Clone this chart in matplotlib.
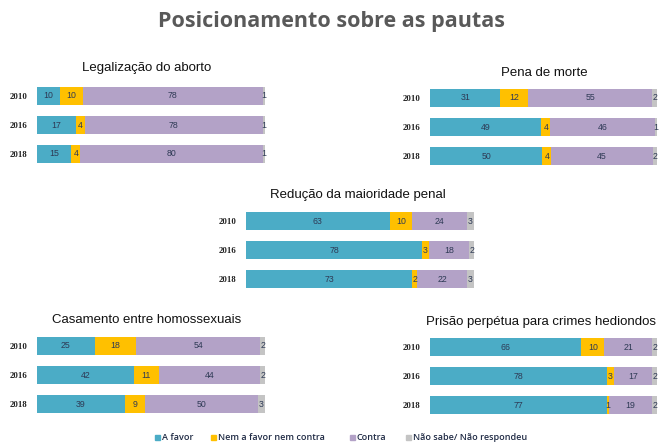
import matplotlib
matplotlib.use("Agg")
import matplotlib.pyplot as plt
from matplotlib.patches import Rectangle

W, H = 659, 448

years = ["2010", "2016", "2018"]
categories = ["A favor", "Nem a favor nem contra", "Contra", "Não sabe/ Não respondeu"]
colors = ["#4BACC6", "#FFC000", "#B3A2C7", "#C4C4C4"]

titles = ["Legalização do aborto", "Pena de morte", "Redução da maioridade penal",
          "Casamento entre homossexuais", "Prisão perpétua para crimes hediondos"]

aborto = [[10, 10, 78, 1], [17, 4, 78, 1], [15, 4, 80, 1]]
pena = [[31, 12, 55, 2], [49, 4, 46, 1], [50, 4, 45, 2]]
reducao = [[63, 10, 24, 3], [78, 3, 18, 2], [73, 2, 22, 3]]
casamento = [[25, 18, 54, 2], [42, 11, 44, 2], [39, 9, 50, 3]]
prisao = [[66, 10, 21, 2], [78, 3, 17, 2], [77, 1, 19, 2]]
datasets = [aborto, pena, reducao, casamento, prisao]

# layout in pixels: (bar left, bar right, first row centre y, title centre x, title y)
layout = [
    (37, 265, 96, 147, 68),
    (430, 657, 98, 544, 73),
    (246, 474, 221, 358, 195),
    (37, 265, 346, 147, 320),
    (430, 657, 347, 541, 322),
]
row_gap = 29
bar_h = 18

fig = plt.figure(figsize=(W / 100, H / 100), dpi=100)
fig.patch.set_facecolor("white")

fig.text(332 / W, 1 - 22 / H, "Posicionamento sobre as pautas", ha="center", va="center",
         fontsize=15.5, color="#595959", family="Open Sans", weight="bold")

label_color = "#2E3A55"
for data, title, (x0, x1, y0, tx, ty) in zip(datasets, titles, layout):
    top = y0 - row_gap / 2
    h = 3 * row_gap
    ax = fig.add_axes([x0 / W, 1 - (top + h) / H, (x1 - x0) / W, h / H])
    for i, row in enumerate(data):
        left = 0
        scale = 100.0 / sum(row)  # each bar spans the full width (100 %)
        for j, v in enumerate(row):
            w = v * scale
            ax.barh(i, w, left=left, height=bar_h / row_gap, color=colors[j], edgecolor="none")
            ax.text(left + w / 2, i, str(v), ha="center", va="center", fontsize=6.3,
                    color=label_color, family="Liberation Sans")
            left += w
    ax.set_xlim(0, 100)
    ax.set_ylim(2.5, -0.5)
    ax.set_yticks(range(3))
    ax.set_yticklabels(years, fontsize=6.3, family="Liberation Serif", weight="bold", color="#222222")
    ax.tick_params(axis="y", length=0, pad=7)
    ax.set_xticks([])
    for s in ax.spines.values():
        s.set_visible(False)
    fig.text(tx / W, 1 - ty / H, title, ha="center", va="center", fontsize=9.5,
             family="Liberation Sans", color="#111111")

# legend
leg_y = 437
leg_x = [157, 213, 352, 408]
for x, c, lab in zip(leg_x, colors, categories):
    fig.add_artist(Rectangle(((x - 2.5) / W, 1 - (leg_y + 2.5) / H), 5 / W, 5 / H,
                             transform=fig.transFigure, color=c))
    fig.text((x + 5) / W, 1 - leg_y / H, lab, ha="left", va="center", fontsize=6.5,
             family="Open Sans", weight="semibold", color="#1F2A44")

fig.savefig("out.png", dpi=100)
